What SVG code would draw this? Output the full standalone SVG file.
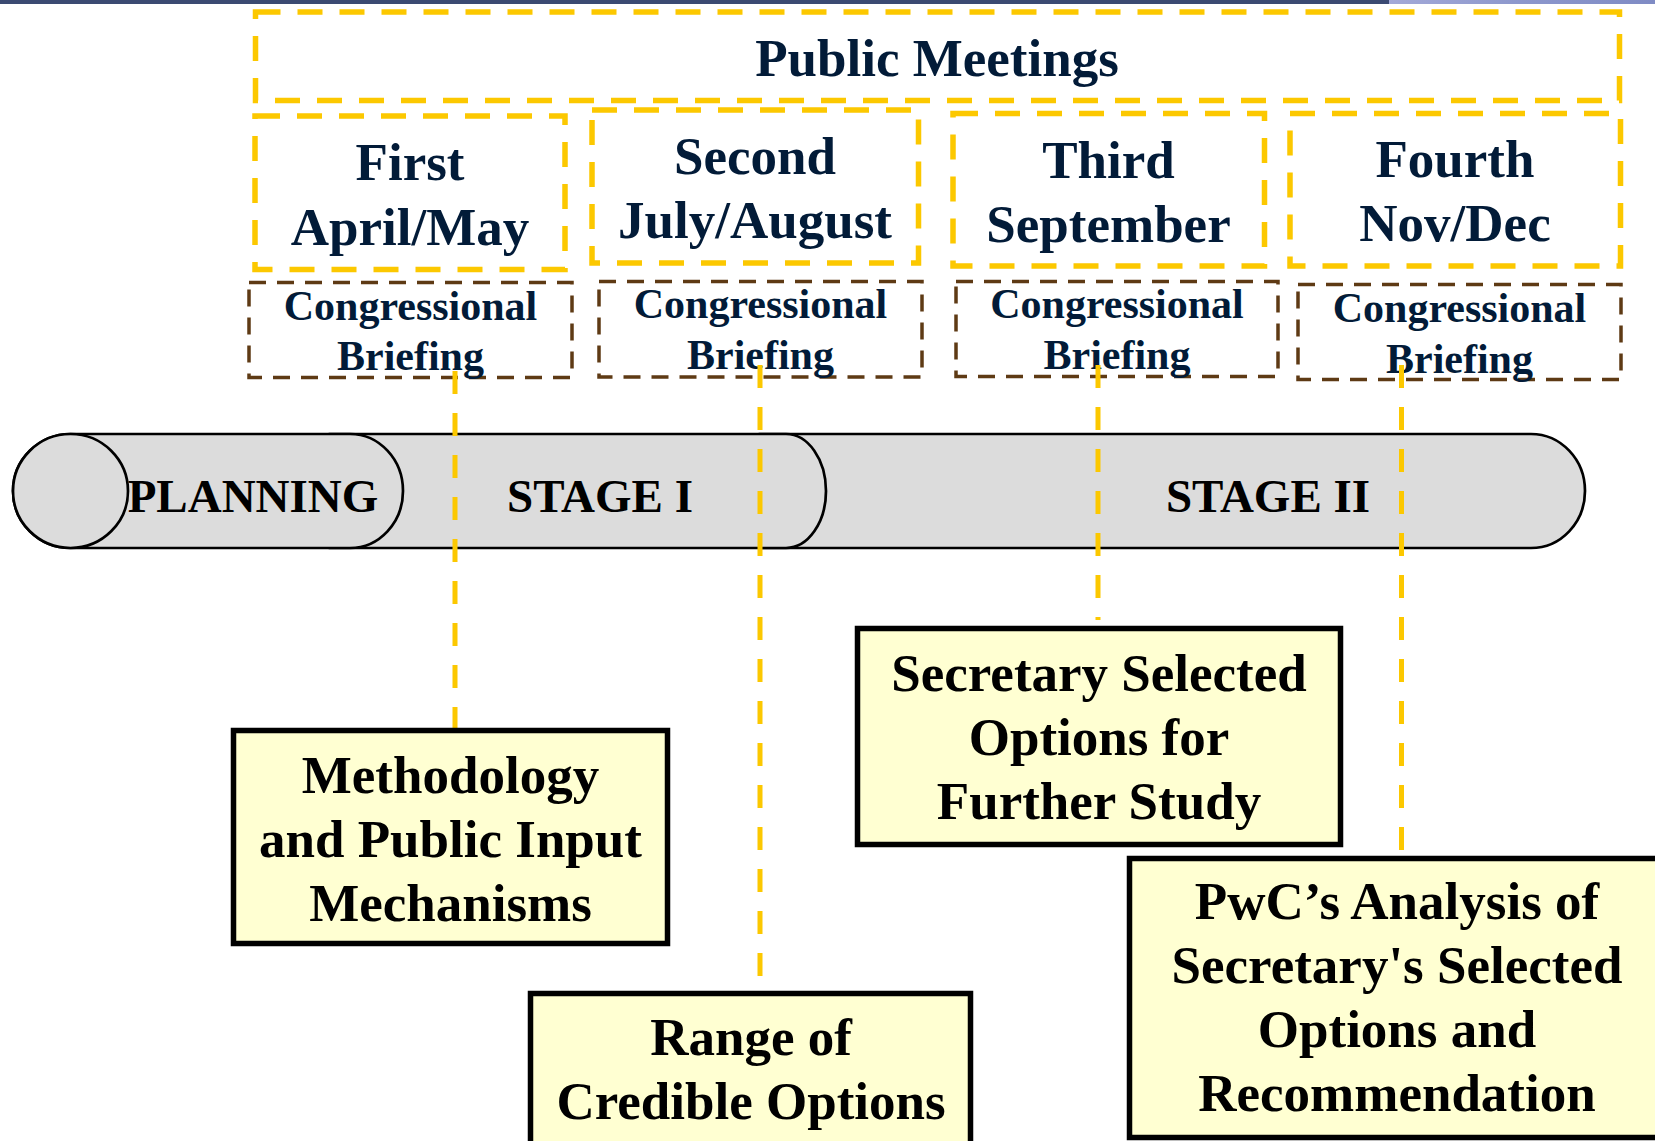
<svg xmlns="http://www.w3.org/2000/svg" width="1655" height="1141" viewBox="0 0 1655 1141">
<style>
.meet{fill:none;stroke:#FCC800;stroke-width:5.5;stroke-dasharray:25 17}
.brief{fill:none;stroke:#5E3A14;stroke-width:3.5;stroke-dasharray:17 11}
.cyl{fill:#DCDCDC;stroke:#000;stroke-width:2.7}
.box{fill:#FFFFD2;stroke:#000;stroke-width:5.5}
.conn{fill:none;stroke:#FCC800;stroke-width:5;stroke-dasharray:23 19}
.tn{font-family:"Liberation Serif","Times New Roman",serif;font-weight:bold;fill:#021B38;text-anchor:middle}
.tb{font-family:"Liberation Serif","Times New Roman",serif;font-weight:bold;fill:#000;text-anchor:middle}
.big{font-size:53px}
.mid{font-size:42px}
.stg{font-size:47px}
</style>
<defs>
<linearGradient id="barg" x1="0" y1="0" x2="1" y2="0">
<stop offset="0" stop-color="#A3A9D8"/>
<stop offset="0.5" stop-color="#8C97CC"/>
<stop offset="1" stop-color="#7F8BC4"/>
</linearGradient>
</defs>
<rect x="0" y="0" width="1655" height="1141" fill="#fff"/>
<g id="topbar">
<rect x="0" y="0" width="1389" height="4" fill="#3B4A72"/>
<rect x="1389" y="0" width="266" height="4" fill="url(#barg)"/>
</g>

<g id="public-meetings">
<rect class="meet" x="255.5" y="12" width="1364" height="88.5"/>
<text class="tn big" x="937" y="76">Public Meetings</text>
</g>
<g id="meeting-first">
<rect class="meet" x="255" y="116" width="310" height="153.5"/>
<text class="tn big" x="410" y="180">First</text>
<text class="tn big" x="410" y="245">April/May</text>
</g>
<g id="meeting-second">
<rect class="meet" x="592" y="110" width="326.5" height="153"/>
<text class="tn big" x="755" y="174">Second</text>
<text class="tn big" x="755" y="238">July/August</text>
</g>
<g id="meeting-third">
<rect class="meet" x="953" y="113.5" width="311.5" height="152.5"/>
<text class="tn big" x="1108.5" y="178">Third</text>
<text class="tn big" x="1108.5" y="242">September</text>
</g>
<g id="meeting-fourth">
<rect class="meet" x="1290" y="113.5" width="330.5" height="152.5"/>
<text class="tn big" x="1455" y="177">Fourth</text>
<text class="tn big" x="1455" y="241">Nov/Dec</text>
</g>

<g id="briefing-1">
<rect class="brief" x="249" y="282.5" width="323" height="95"/>
<text class="tn mid" x="410.5" y="320">Congressional</text>
<text class="tn mid" x="410.5" y="370">Briefing</text>
</g>
<g id="briefing-2">
<rect class="brief" x="599" y="281.5" width="323" height="95.5"/>
<text class="tn mid" x="760.5" y="318">Congressional</text>
<text class="tn mid" x="760.5" y="369">Briefing</text>
</g>
<g id="briefing-3">
<rect class="brief" x="956" y="281.5" width="322" height="95"/>
<text class="tn mid" x="1117" y="318">Congressional</text>
<text class="tn mid" x="1117" y="369">Briefing</text>
</g>
<g id="briefing-4">
<rect class="brief" x="1298" y="284.5" width="323" height="95"/>
<text class="tn mid" x="1459.5" y="322">Congressional</text>
<text class="tn mid" x="1459.5" y="373">Briefing</text>
</g>

<g id="stage-2">
<path class="cyl" d="M 760,434 L 1531,434 A 54,57 0 0 1 1531,548 L 760,548 Z"/>
<text class="tb stg" x="1268" y="512">STAGE II</text>
</g>
<g id="stage-1">
<path class="cyl" d="M 330,434 L 786,434 A 40,57 0 0 1 786,548 L 330,548 Z"/>
<text class="tb stg" x="600" y="512">STAGE I</text>
</g>
<g id="planning">
<path class="cyl" d="M 70.5,434 L 350,434 A 53,57 0 0 1 350,548 L 70.5,548 A 57.5,57 0 0 1 70.5,434 Z"/>
<ellipse class="cyl" cx="70.5" cy="491" rx="57.5" ry="57"/>
<text class="tb stg" x="253" y="512">PLANNING</text>
</g>

<g id="connectors">
<line class="conn" x1="455" y1="371" x2="455" y2="728"/>
<line class="conn" x1="760" y1="365" x2="760" y2="977"/>
<line class="conn" x1="1098" y1="365" x2="1098" y2="620"/>
<line class="conn" x1="1401.5" y1="365" x2="1401.5" y2="850"/>
</g>

<g id="methodology">
<rect class="box" x="233.5" y="730.5" width="434" height="213"/>
<text class="tb big" x="450.5" y="793">Methodology</text>
<text class="tb big" x="450.5" y="857">and Public Input</text>
<text class="tb big" x="450.5" y="921">Mechanisms</text>
</g>
<g id="range">
<rect class="box" x="530.5" y="993.5" width="440" height="200"/>
<text class="tb big" x="751" y="1055">Range of</text>
<text class="tb big" x="751" y="1119">Credible Options</text>
</g>
<g id="secretary">
<rect class="box" x="857.5" y="628.5" width="483" height="216"/>
<text class="tb big" x="1099" y="691">Secretary Selected</text>
<text class="tb big" x="1099" y="755">Options for</text>
<text class="tb big" x="1099" y="819">Further Study</text>
</g>
<g id="pwc">
<rect class="box" x="1129.5" y="858.5" width="600" height="279"/>
<text class="tb big" x="1397" y="919">PwC’s Analysis of</text>
<text class="tb big" x="1397" y="983">Secretary's Selected</text>
<text class="tb big" x="1397" y="1047">Options and</text>
<text class="tb big" x="1397" y="1111">Recommendation</text>
</g>
</svg>
